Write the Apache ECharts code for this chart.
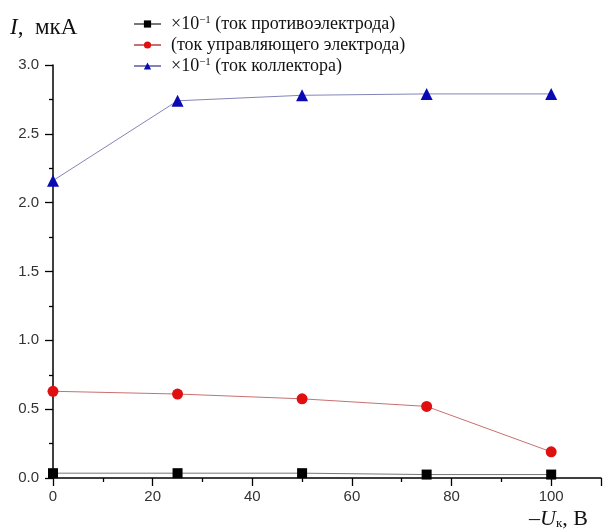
<!DOCTYPE html>
<html>
<head>
<meta charset="utf-8">
<script src="https://cdn.jsdelivr.net/npm/echarts@6/dist/echarts.min.js"></script>
<style>
  html, body { margin: 0; padding: 0; background: #fff; }
  #chart { width: 604px; height: 530px; }
</style>
</head>
<body>
<div id="chart"></div>
<script>
// напряжение коллектора, -U, В
const voltage = [0, 25, 50, 75, 100];
// токи, мкА
const counterCurrent = [0.035, 0.035, 0.035, 0.025, 0.025];
const controlCurrent = [0.63, 0.61, 0.575, 0.52, 0.19];
const collectorCurrent = [2.16, 2.74, 2.78, 2.79, 2.79];

const seriesNames = [
    '×10⁻¹ (ток противоэлектрода)',
    '(ток управляющего электрода)',
    '×10⁻¹ (ток коллектора)'
];

function pairs(ys) {
    return voltage.map(function (x, i) { return [x, ys[i]]; });
}

const serif = '"Liberation Serif", "Times New Roman", serif';
const sans = '"Liberation Sans", Arial, sans-serif';

const chart = echarts.init(document.getElementById('chart'));

const option = {
    animation: false,
    backgroundColor: '#fff',
    grid: { left: 53, right: 1, top: 65, bottom: 52 },
    legend: {
        orient: 'vertical',
        left: 128,
        top: 10,
        itemWidth: 27,
        itemHeight: 9,
        itemGap: 3,
        data: seriesNames,
        formatter: function (name) {
            return name.replace('×10⁻¹', '×10{sup|−1}');
        },
        textStyle: {
            fontFamily: serif,
            fontSize: 18,
            color: '#111',
            padding: [0, 0, 0, 5],
            rich: {
                sup: { fontFamily: serif, fontSize: 11, verticalAlign: 'top', padding: [0, 0, 7, 0] }
            }
        }
    },
    xAxis: {
        type: 'value',
        min: 0,
        max: 110,
        interval: 20,
        axisLine: { onZero: false, lineStyle: { color: '#000', width: 1.5 } },
        axisTick: { inside: false, length: 8, lineStyle: { color: '#000', width: 1.3 } },
        minorTick: { show: true, splitNumber: 2, length: 4, lineStyle: { color: '#000', width: 1.3 } },
        splitLine: { show: false },
        axisLabel: {
            margin: 11,
            fontFamily: sans,
            fontSize: 15,
            color: '#333',
            formatter: function (v) { return v > 100 ? '' : String(v); }
        }
    },
    yAxis: {
        type: 'value',
        min: 0,
        max: 3,
        interval: 0.5,
        axisLine: { show: true, lineStyle: { color: '#000', width: 1.5 } },
        axisTick: { show: true, inside: false, length: 8, lineStyle: { color: '#000', width: 1.3 } },
        minorTick: { show: true, splitNumber: 2, length: 4, lineStyle: { color: '#000', width: 1.3 } },
        splitLine: { show: false },
        axisLabel: {
            margin: 14,
            fontFamily: sans,
            fontSize: 15,
            color: '#333',
            formatter: function (v) { return v.toFixed(1); }
        }
    },
    graphic: [
        {
            type: 'text',
            left: 10,
            top: 16,
            style: {
                text: '{i|I},  мкА',
                fontFamily: serif,
                fontSize: 23,
                fill: '#111',
                rich: {
                    i: { fontFamily: serif, fontStyle: 'italic', fontSize: 23, fill: '#111' }
                }
            }
        },
        {
            type: 'text',
            right: 16,
            top: 508,
            style: {
                text: '–{u|U}{sub|к}, В',
                fontFamily: serif,
                fontSize: 22,
                fill: '#111',
                rich: {
                    u: { fontFamily: serif, fontStyle: 'italic', fontSize: 22, fill: '#111' },
                    sub: { fontFamily: serif, fontSize: 13, fill: '#111', verticalAlign: 'bottom', padding: [7, 0, 0, 0] }
                }
            }
        }
    ],
    series: [
        {
            name: seriesNames[0],
            type: 'line',
            data: pairs(counterCurrent),
            symbol: 'rect',
            symbolSize: 10,
            itemStyle: { color: '#000' },
            lineStyle: { color: '#777', width: 1 },
            clip: false,
            z: 3
        },
        {
            name: seriesNames[1],
            type: 'line',
            data: pairs(controlCurrent),
            symbol: 'circle',
            symbolSize: 11,
            itemStyle: { color: '#e01010' },
            lineStyle: { color: '#c87070', width: 1 },
            clip: false,
            z: 4
        },
        {
            name: seriesNames[2],
            type: 'line',
            data: pairs(collectorCurrent),
            symbol: 'triangle',
            symbolSize: 12,
            itemStyle: { color: '#0a0ab4' },
            lineStyle: { color: '#8484b8', width: 1 },
            clip: false,
            z: 5
        }
    ]
};

chart.setOption(option);
</script>
</body>
</html>
